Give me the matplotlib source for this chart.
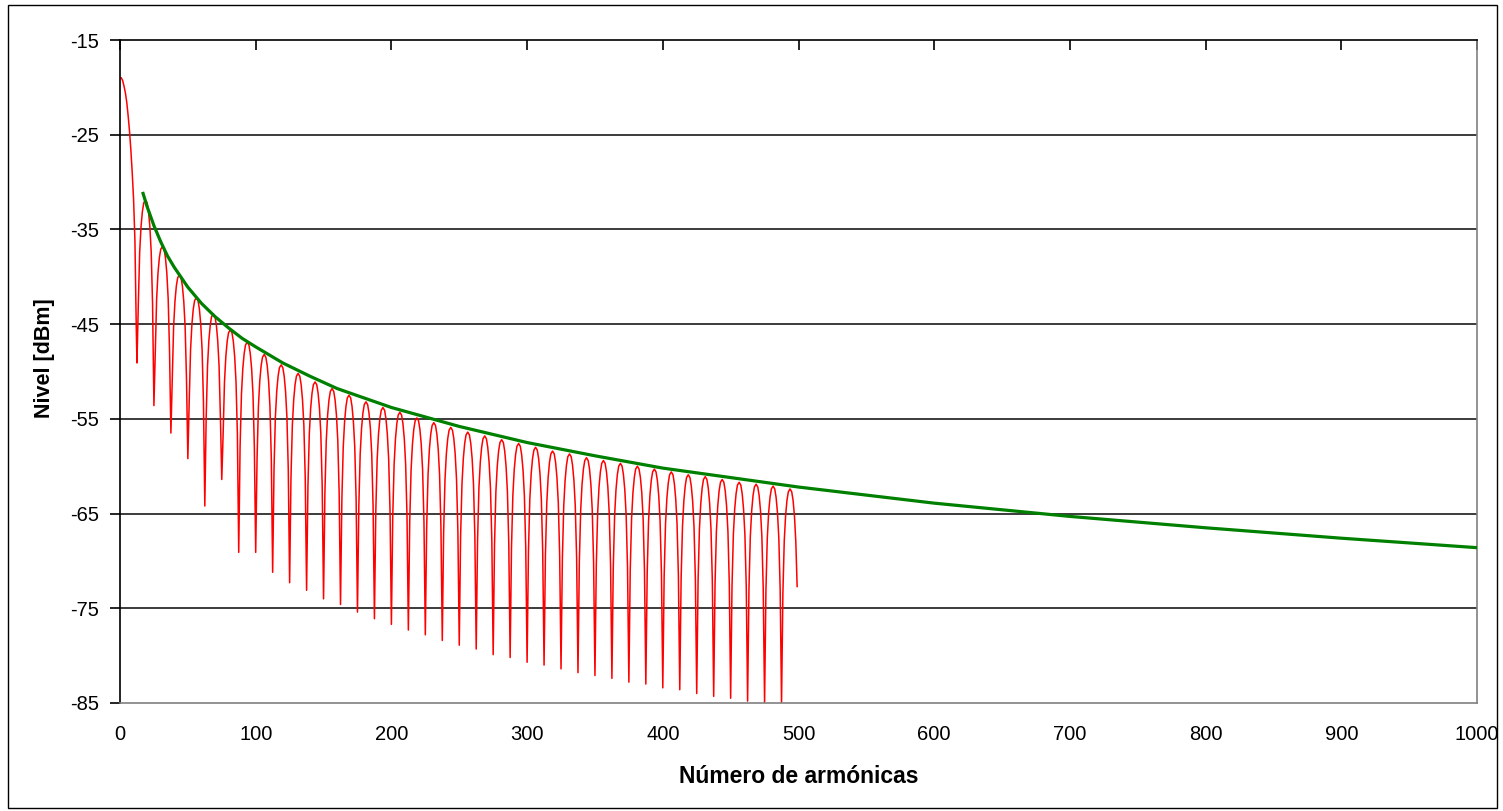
import matplotlib.pyplot as plt
from matplotlib.patches import Rectangle

plt.rcParams['font.family'] = ['Liberation Sans', 'DejaVu Sans']

# ---------------------------------------------
# data
# ---------------------------------------------
# main lobe, harmonics 1..12
main_x = [1, 2, 3, 4, 5, 6, 7, 8, 9, 10, 11, 12]
main_db = [-19.0, -19.3, -19.9, -20.6, -21.6, -23.0, -24.6, -26.6, -29.0, -31.8, -36.2, -45.5]

# bottom of each null, null k sits at harmonic 12.5*k (k = 1..39)
null_db = [-49.1, -53.6, -56.5, -59.2, -64.2, -61.4, -69.1, -69.1, -71.2, -72.3,
           -73.1, -74.0, -74.6, -75.4, -76.1, -76.7, -77.3, -77.8, -78.4, -78.9,
           -79.3, -79.9, -80.2, -80.7, -81.0, -81.4, -81.8, -82.1, -82.4, -82.8,
           -83.0, -83.4, -83.6, -84.0, -84.3, -84.5, -84.8, -85.0, -85.0]

# top of each side lobe (lobe k between null k and null k+1)
peak_db = [-31.9, -36.8, -39.8, -42.2, -43.9, -45.6, -46.9, -48.2, -49.3, -50.2,
           -51.1, -51.8, -52.5, -53.2, -53.8, -54.3, -54.9, -55.4, -55.9, -56.4,
           -56.8, -57.2, -57.6, -58.0, -58.4, -58.7, -59.1, -59.4, -59.7, -60.0,
           -60.3, -60.6, -60.9, -61.1, -61.4, -61.7, -61.9, -62.1, -62.4]

# shape of one side lobe: offset from its null (harmonics) and level below the peak (dB)
lobe_off = [1, 2, 3, 4, 5, 6.25, 7.5, 8.5, 9.5, 10.5, 11.5]
lobe_rel = [-11.0, -5.5, -2.8, -1.2, -0.3, 0.0, -0.3, -1.2, -2.8, -5.5, -11.0]

# last sample of the red trace
tail_x = [499]
tail_db = [-72.7]

# envelope (green)
green_x = [17, 20, 25, 30, 35, 40, 50, 60, 70, 80, 90, 100, 120, 140, 160, 180, 200,
           250, 300, 350, 400, 450, 500, 600, 700, 800, 900, 1000]
green_db = [-31.2, -32.6, -34.6, -36.3, -37.8, -39.0, -41.1, -42.8, -44.2, -45.4, -46.5,
            -47.4, -49.1, -50.5, -51.8, -52.8, -53.8, -55.8, -57.5, -58.9, -60.2, -61.2,
            -62.2, -63.9, -65.3, -66.5, -67.6, -68.6]

x_ticks = [0, 100, 200, 300, 400, 500, 600, 700, 800, 900, 1000]
y_ticks = [-15, -25, -35, -45, -55, -65, -75, -85]

# ---------------------------------------------
# assemble the red trace
# ---------------------------------------------
red_x = list(main_x)
red_y = list(main_db)
for k in range(1, len(null_db) + 1):
    x0 = 12.5 * k
    red_x.append(x0)
    red_y.append(null_db[k - 1])
    for off, rel in zip(lobe_off, lobe_rel):
        if k == len(null_db) and off > 10.5:
            break
        red_x.append(x0 + off)
        red_y.append(peak_db[k - 1] + rel)
red_x += tail_x
red_y += tail_db

# ---------------------------------------------
# plot
# ---------------------------------------------
fig = plt.figure(figsize=(15.03, 8.11), dpi=100)
ax = fig.add_axes([120 / 1503, 1 - 703 / 811, 1357 / 1503, 663 / 811])

for y in y_ticks[1:-1]:
    ax.axhline(y, color='#1a1a1a', lw=1.2, zorder=1)

ax.plot(red_x, red_y, color='#ff0000', lw=1.1, zorder=2)
ax.plot(green_x, green_db, color='#008000', lw=2.3, zorder=3)

ax.set_xlim(0, 1000)
ax.set_ylim(-85, -15)
ax.set_xticks(x_ticks)
ax.set_yticks(y_ticks)
ax.set_yticklabels([str(v) for v in y_ticks])

ax.tick_params(axis='x', bottom=False, top=True, labelbottom=True, labeltop=False,
               direction='in', length=7, width=1.2, pad=16, labelsize=14.5)
ax.tick_params(axis='y', left=True, right=False, direction='out', length=7,
               width=1.2, pad=8, labelsize=14.5)

ax.spines['left'].set_color('black')
ax.spines['top'].set_color('black')
ax.spines['right'].set_color('#808080')
ax.spines['bottom'].set_color('#808080')
for s in ax.spines.values():
    s.set_linewidth(1.2)

ax.set_xlabel('Número de armónicas', fontsize=16.5, fontweight='bold', va='center')
ax.xaxis.set_label_coords(0.5, -0.1116)
ax.set_ylabel('Nivel [dBm]', fontsize=15.5, fontweight='bold', va='center')
ax.yaxis.set_label_coords(-0.0553, 0.52)

# outer chart border
fig.patches.append(Rectangle((8 / 1503, 1 - 808 / 811), 1489 / 1503, 803 / 811,
                             transform=fig.transFigure, fill=False,
                             edgecolor='black', lw=1.0))

fig.savefig('out.png', dpi=100)
